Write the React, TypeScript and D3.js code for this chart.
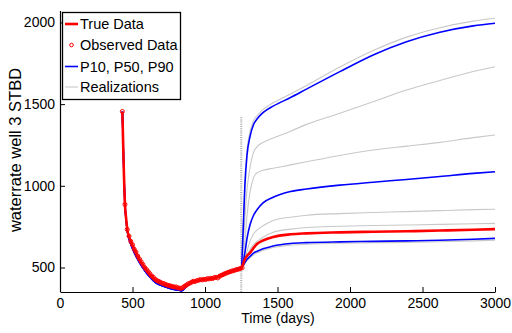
// App.tsx
// waterrate forecast chart: history match + P10/P50/P90 + realizations
import React, { useEffect, useRef } from 'react';
import * as d3 from 'd3';

// history period (days) and rates
const histTime = [430, 440, 448, 456, 464, 480, 506, 530, 552, 575, 598, 620, 644, 670, 700, 730, 760, 800, 840, 870, 897, 940, 989, 1040, 1080, 1115, 1149, 1200, 1250];
const trueHist = [1455, 1100, 886, 800, 733, 680, 626, 580, 545, 512, 483, 458, 434, 418, 406, 396, 387, 378, 370, 390, 406, 418, 426, 432, 439, 452, 467, 480, 495];
const modelHist = [1455, 1100, 886, 795, 725, 665, 605, 560, 525, 493, 465, 442, 420, 402, 390, 380, 372, 364, 358, 385, 403, 418, 428, 433, 440, 455, 470, 484, 498];

// forecast period
const foreTime = [1250, 1262, 1275, 1290, 1310, 1335, 1360, 1400, 1470, 1590, 1700, 1930, 2160, 2390, 2620, 2850, 3000];
const trueFore = [495, 520, 550, 572, 590, 620, 645, 665, 687, 703, 709, 715, 719, 722, 726, 731, 735];
const p10Fore = [495, 510, 530, 550, 568, 588, 600, 614, 632, 647, 652, 657, 660, 663, 667, 673, 678];
const p50Fore = [495, 530, 590, 680, 760, 820, 855, 895, 930, 965, 980, 1004, 1022, 1039, 1057, 1076, 1086];
const p90Fore = [495, 700, 1000, 1190, 1300, 1375, 1410, 1448, 1488, 1540, 1592, 1699, 1801, 1882, 1940, 1979, 1995];
const realFore = [
    [495, 720, 1030, 1220, 1330, 1400, 1430, 1466, 1508, 1562, 1614, 1727, 1828, 1910, 1968, 2008, 2026],
    [495, 620, 800, 980, 1110, 1205, 1240, 1265, 1292, 1334, 1376, 1444, 1515, 1586, 1645, 1700, 1729],
    [495, 560, 660, 820, 960, 1050, 1080, 1095, 1107, 1128, 1147, 1186, 1219, 1243, 1266, 1295, 1311],
    [495, 515, 550, 600, 660, 705, 730, 755, 788, 808, 820, 830, 837, 842, 848, 854, 857],
    [495, 510, 535, 570, 610, 640, 660, 685, 716, 735, 745, 752, 757, 760, 764, 768, 770],
    [495, 506, 522, 540, 558, 578, 590, 604, 622, 637, 642, 648, 651, 654, 658, 663, 667],
];

// observed data
const obsTime = [430, 448, 464, 476, 488, 500, 512, 524, 536, 548, 560, 572, 584, 596, 608, 620, 632, 644, 656, 668, 680, 692, 704, 716, 728, 740, 752, 764, 776, 788, 800, 812, 824, 836, 848, 860, 872, 884, 896, 908, 920, 932, 944, 956, 968, 980, 992, 1004, 1016, 1028, 1040, 1052, 1064, 1076, 1088, 1100, 1112, 1124, 1136, 1148, 1160, 1172, 1184, 1196, 1208, 1220, 1232, 1244, 1256];
const obsRate = [1455, 886, 733, 692, 660, 640, 612, 594, 570, 552, 535, 518, 500, 488, 475, 462, 448, 440, 428, 420, 415, 410, 404, 402, 396, 392, 390, 386, 384, 380, 381, 376, 374, 372, 378, 386, 392, 400, 404, 410, 416, 414, 420, 422, 426, 424, 428, 426, 432, 430, 434, 432, 438, 440, 436, 446, 452, 456, 462, 466, 470, 474, 478, 480, 484, 488, 490, 494, 498];

const xTicks = [0, 500, 1000, 1500, 2000, 2500, 3000];
const yTicks = [500, 1000, 1500, 2000];
const legendLabels = ['True Data', 'Observed Data', 'P10, P50, P90', 'Realizations'];

const W = 512;
const H = 333;
const FONT = "'Liberation Sans', Arial, sans-serif";

export default function App() {
    const ref = useRef<SVGSVGElement>(null);

    useEffect(() => {
        const svg = d3.select(ref.current);
        svg.selectAll('*').remove();

        const x = d3.scaleLinear().domain([0, 3000]).range([60, 495]);
        const y = d3.scaleLinear().domain([350, 2070]).range([292, 11]);

        const line = d3.line<[number, number]>()
            .x((d) => x(d[0]))
            .y((d) => y(d[1]))
            .curve(d3.curveMonotoneX);

        const series = (hist: number[], fore: number[]): [number, number][] => [
            ...histTime.map((t, i) => [t, hist[i]] as [number, number]),
            ...foreTime.slice(1).map((t, i) => [t, fore[i + 1]] as [number, number]),
        ];

        // end of history marker
        svg.append('line')
            .attr('x1', x(1250)).attr('x2', x(1250))
            .attr('y1', y(1420)).attr('y2', y(350))
            .attr('stroke', '#aaa').attr('stroke-width', 2)
            .attr('stroke-dasharray', '1,1.2');

        realFore.forEach((r) => {
            svg.append('path')
                .attr('d', line(series(modelHist, r)))
                .attr('fill', 'none').attr('stroke', '#c8c8c8').attr('stroke-width', 1.1);
        });

        [p10Fore, p50Fore, p90Fore].forEach((p) => {
            svg.append('path')
                .attr('d', line(series(modelHist, p)))
                .attr('fill', 'none').attr('stroke', '#0000ff').attr('stroke-width', 1.6);
        });

        svg.append('path')
            .attr('d', line(series(trueHist, trueFore)))
            .attr('fill', 'none').attr('stroke', '#ff0000').attr('stroke-width', 2.6);

        svg.append('g').selectAll('circle')
            .data(obsTime)
            .enter()
            .append('circle')
            .attr('cx', (d) => x(d))
            .attr('cy', (d, i) => y(obsRate[i]))
            .attr('r', 2)
            .attr('fill', 'none').attr('stroke', '#ff0000').attr('stroke-width', 1);

        // axes
        const fmt = d3.format('d');
        const xAxis = svg.append('g')
            .attr('transform', `translate(0,${y(350)})`)
            .call(d3.axisBottom(x).tickValues(xTicks).tickFormat(fmt).tickSizeInner(-5).tickSizeOuter(0).tickPadding(6));
        const yAxis = svg.append('g')
            .attr('transform', `translate(${x(0)},0)`)
            .call(d3.axisLeft(y).tickValues(yTicks).tickFormat(fmt).tickSizeInner(-5).tickSizeOuter(0).tickPadding(5));
        [xAxis, yAxis].forEach((a) => {
            a.select('.domain').attr('stroke', '#000').attr('stroke-width', 1.2);
            a.selectAll('text').attr('font-family', FONT).attr('font-size', 14).attr('fill', '#000');
        });
        yAxis.select('.domain').attr('d', `M0.5,${y(350)}V${y(2070)}`);

        svg.append('text')
            .attr('x', 278).attr('y', 323)
            .attr('text-anchor', 'middle')
            .attr('font-family', FONT).attr('font-size', 14)
            .text('Time (days)');

        svg.append('text')
            .attr('transform', 'translate(21,150) rotate(-90)')
            .attr('text-anchor', 'middle')
            .attr('font-family', FONT).attr('font-size', 16.5)
            .text('waterrate well 3 STBD');

        // legend
        const lg = svg.append('g');
        lg.append('rect')
            .attr('x', 62.5).attr('y', 12.5).attr('width', 118).attr('height', 87)
            .attr('fill', '#fff').attr('stroke', '#000').attr('stroke-width', 1.3);
        const rowY = [24, 45, 66.5, 87];
        legendLabels.forEach((lbl, i) => {
            if (i === 1) {
                lg.append('circle').attr('cx', 71.5).attr('cy', rowY[i]).attr('r', 1.8)
                    .attr('fill', 'none').attr('stroke', '#ff0000').attr('stroke-width', 1);
            } else {
                const col = ['#ff0000', '', '#0000ff', '#c8c8c8'][i];
                const sw = [2.6, 0, 1.6, 1.1][i];
                lg.append('line').attr('x1', 65).attr('x2', 78)
                    .attr('y1', rowY[i]).attr('y2', rowY[i])
                    .attr('stroke', col).attr('stroke-width', sw);
            }
            lg.append('text')
                .attr('x', 80).attr('y', rowY[i])
                .attr('dy', '0.35em')
                .attr('font-family', FONT).attr('font-size', 14.5)
                .text(lbl);
        });
    }, []);

    return (
        <svg ref={ref} width={W} height={H}
            style={{ position: 'absolute', left: 0, top: 0, background: '#fff' }} />
    );
}
